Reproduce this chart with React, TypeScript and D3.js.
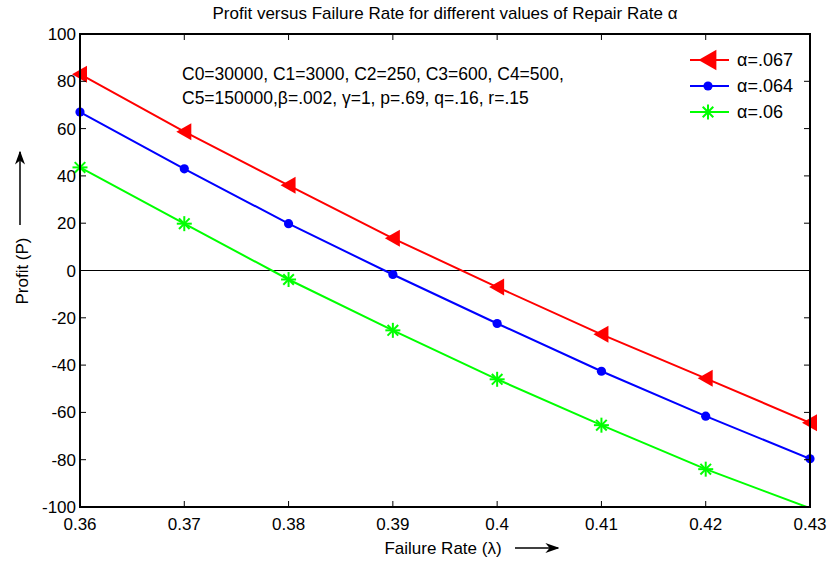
import React from "react";
import * as d3 from "d3";

const xValues = [0.36, 0.37, 0.38, 0.39, 0.4, 0.41, 0.42, 0.43];
const seriesRed = [83, 58.7, 36, 13.6, -7, -27, -45.6, -64.4];
const seriesBlue = [67, 43, 19.8, -1.7, -22.4, -42.6, -61.6, -79.6];
const seriesGreen = [43.6, 19.8, -3.8, -25.3, -46, -65.4, -84, -100.5];
const legendLabels = ["α=.067", "α=.064", "α=.06"];
const xTicks = [0.36, 0.37, 0.38, 0.39, 0.4, 0.41, 0.42, 0.43];
const yTicks = [-100, -80, -60, -40, -20, 0, 20, 40, 60, 80, 100];
const titleText = "Profit versus Failure Rate for different values of Repair Rate α";
const annotation = [
  "C0=30000, C1=3000, C2=250, C3=600, C4=500,",
  "C5=150000,β=.002, γ=1, p=.69, q=.16, r=.15",
];

const W = 832;
const H = 562;
const L = 80, R = 810, T = 34, B = 507;
const font = "'Liberation Sans', Arial, sans-serif";
const FS = 17;

function Marker({ type, x, y, color, s = 1 }: { type: string; x: number; y: number; color: string; s?: number }) {
  if (type === "tri") {
    return <path d={`M${x - 8 * s},${y} L${x + 7 * s},${y - 8.5 * s} L${x + 7 * s},${y + 8.5 * s} Z`} fill={color} />;
  }
  if (type === "dot") {
    return <circle cx={x} cy={y} r={4.6 * s} fill={color} />;
  }
  const r = 7.5 * s;
  const a = r * Math.SQRT1_2;
  return (
    <g stroke={color} strokeWidth={2}>
      <line x1={x - r} y1={y} x2={x + r} y2={y} />
      <line x1={x} y1={y - r} x2={x} y2={y + r} />
      <line x1={x - a} y1={y - a} x2={x + a} y2={y + a} />
      <line x1={x - a} y1={y + a} x2={x + a} y2={y - a} />
    </g>
  );
}

export default function App() {
  const x = d3.scaleLinear().domain([0.36, 0.43]).range([L, R]);
  const y = d3.scaleLinear().domain([-100, 100]).range([B, T]);
  const line = d3.line<number>().x((_, i) => x(xValues[i])).y((d) => y(d));
  const series = [
    { data: seriesRed, color: "#ff0000", marker: "tri" },
    { data: seriesBlue, color: "#0000ff", marker: "dot" },
    { data: seriesGreen, color: "#00ff00", marker: "star" },
  ];
  return (
    <svg width={W} height={H} style={{ position: "absolute", left: 0, top: 0, background: "#fff" }} fontFamily={font}>
      <defs>
        <clipPath id="plot">
          <rect x={L} y={T} width={R - L} height={B - T} />
        </clipPath>
        <marker id="ah" viewBox="0 0 10 10" refX="9" refY="5" markerWidth="14" markerHeight="10" orient="auto" markerUnits="userSpaceOnUse" preserveAspectRatio="none">
          <path d="M0,0 L10,5 L0,10 L3,5 Z" fill="#000" />
        </marker>
      </defs>
      <rect x={0} y={0} width={W} height={H} fill="#fff" />
      <text x={(L + R) / 2} y={19} textAnchor="middle" fontSize={FS} fill="#000">{titleText}</text>
      {/* zero line */}
      <line x1={L} x2={R} y1={y(0)} y2={y(0)} stroke="#000" strokeWidth={1} />
      {/* series */}
      <g clipPath="url(#plot)">
        {series.map((s, k) => (
          <path key={k} d={line(s.data) || ""} fill="none" stroke={s.color} strokeWidth={2} />
        ))}
      </g>
      {series.map((s, k) =>
        s.data.map((v, i) =>
          v >= -100 ? <Marker key={`${k}-${i}`} type={s.marker} x={x(xValues[i])} y={y(v)} color={s.color} /> : null
        )
      )}
      {/* axes box */}
      <rect x={L} y={T} width={R - L} height={B - T} fill="none" stroke="#000" strokeWidth={2} />
      {xTicks.map((t) => (
        <g key={`x${t}`}>
          <line x1={x(t)} x2={x(t)} y1={B} y2={B - 6} stroke="#000" />
          <line x1={x(t)} x2={x(t)} y1={T} y2={T + 6} stroke="#000" />
          <text x={x(t)} y={B + 23} textAnchor="middle" fontSize={FS} fill="#000">{String(t)}</text>
        </g>
      ))}
      {yTicks.map((t) => (
        <g key={`y${t}`}>
          <line x1={L} x2={L + 6} y1={y(t)} y2={y(t)} stroke="#000" />
          <line x1={R} x2={R - 6} y1={y(t)} y2={y(t)} stroke="#000" />
          <text x={L - 4} y={y(t) + 6} textAnchor="end" fontSize={FS} fill="#000">{String(t)}</text>
        </g>
      ))}
      {/* annotation */}
      {annotation.map((a, i) => (
        <text key={i} x={182} y={80 + i * 24} fontSize={17.5} fill="#000">{a}</text>
      ))}
      {/* legend */}
      {series.map((s, k) => {
        const ly = 60 + k * 26;
        return (
          <g key={`lg${k}`}>
            <line x1={690} x2={729} y1={ly} y2={ly} stroke={s.color} strokeWidth={2} />
            <Marker type={s.marker} x={708} y={ly} color={s.color} s={s.marker === "tri" ? 1.2 : 1} />
            <text x={737} y={ly + 6} fontSize={18} fill="#000">{legendLabels[k]}</text>
          </g>
        );
      })}
      {/* y label */}
      <text transform={`translate(28,271) rotate(-90)`} textAnchor="middle" fontSize={FS} fill="#000">Profit (P)</text>
      <line x1={20} x2={20} y1={225} y2={152} stroke="#000" strokeWidth={1.5} markerEnd="url(#ah)" />
      {/* x label */}
      <text x={443} y={554} textAnchor="middle" fontSize={FS} fill="#000">Failure Rate (λ)</text>
      <line x1={515} x2={558} y1={548} y2={548} stroke="#000" strokeWidth={1.5} markerEnd="url(#ah)" />
    </svg>
  );
}
